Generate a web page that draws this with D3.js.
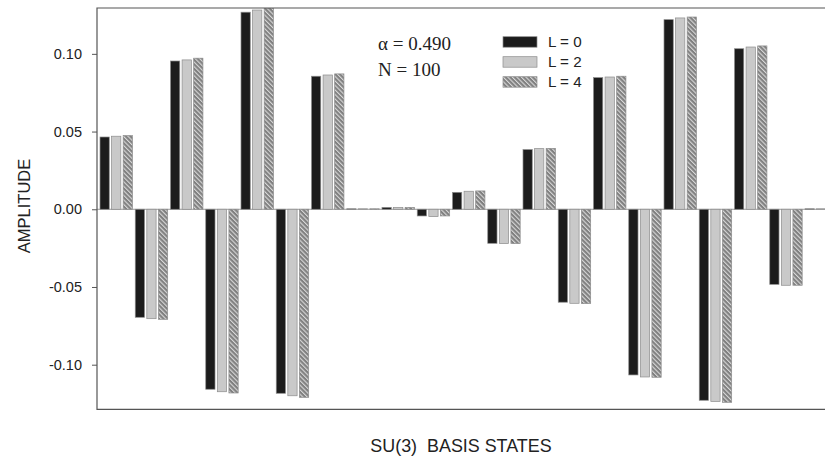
<!DOCTYPE html>
<html>
<head>
<meta charset="utf-8">
<script src="https://cdn.jsdelivr.net/npm/d3@7"></script>
<style>
  body { margin: 0; background: #fff; }
  text { font-family: "Liberation Sans", Arial, sans-serif; fill: #222; }
</style>
</head>
<body>
<div id="plot"></div>
<script>
// basis states 1..21, one value per L
var states = d3.range(1, 22);
var series = ["L = 0", "L = 2", "L = 4"];
var L0 = [0.0465, -0.0695, 0.0954, -0.1158, 0.1268, -0.1184, 0.0856, 0.0003, 0.0012, -0.0043, 0.0109,
          -0.0219, 0.0384, -0.0598, 0.0847, -0.1066, 0.1220, -0.1229, 0.1033, -0.0483, 0.0003];
var L2 = [0.0470, -0.0704, 0.0961, -0.1174, 0.1282, -0.1200, 0.0864, 0.0003, 0.0012, -0.0047, 0.0116,
          -0.0221, 0.0390, -0.0605, 0.0851, -0.1079, 0.1231, -0.1236, 0.1044, -0.0489, 0.0003];
var L4 = [0.0474, -0.0708, 0.0972, -0.1182, 0.1295, -0.1210, 0.0871, 0.0003, 0.0012, -0.0043, 0.0118,
          -0.0221, 0.0392, -0.0607, 0.0856, -0.1081, 0.1237, -0.1242, 0.1051, -0.0489, 0.0003];
var yTicks = [-0.10, -0.05, 0.00, 0.05, 0.10];
var notes = ["\u03b1 = 0.490", "N = 100"];

var values = [L0, L2, L4];
var w = 825, h = 459;
var padL = 97, padT = 8, plotBot = 409.3;

var svg = d3.select("#plot").append("svg")
  .attr("width", w)
  .attr("height", h);

var defs = svg.append("defs");
var pat = defs.append("pattern")
  .attr("id", "hatch")
  .attr("patternUnits", "userSpaceOnUse")
  .attr("width", 3.2)
  .attr("height", 3.2)
  .attr("patternTransform", "rotate(-45)");
pat.append("rect").attr("width", 3.2).attr("height", 3.2).attr("fill", "#808080");
pat.append("rect").attr("x", 0).attr("width", 1.1).attr("height", 3.2).attr("fill", "#d8d8d8");

defs.append("clipPath").attr("id", "clip")
  .append("rect").attr("x", padL).attr("y", padT).attr("width", w - padL).attr("height", plotBot - padT);

var fills = ["#1c1c1c", "#c9c9c9", "url(#hatch)"];

var step = 35.25;
var x0 = d3.scaleBand()
  .domain(states)
  .range([padL, padL + step * (states.length - 0.08 + 0.17)])
  .paddingInner(0.08)
  .paddingOuter(0.085);

var x1 = d3.scaleBand()
  .domain(series)
  .range([0, x0.bandwidth()])
  .paddingInner(0.2);

var y = d3.scaleLinear()
  .domain([-0.1287, 0.1295])
  .range([plotBot, padT]);

// zero line
svg.append("line")
  .attr("x1", padL).attr("x2", w)
  .attr("y1", y(0)).attr("y2", y(0))
  .attr("stroke", "#9a9a9a")
  .attr("stroke-width", 1);

var bars = svg.append("g").attr("clip-path", "url(#clip)");
series.forEach(function(s, si) {
  bars.selectAll(".b" + si)
    .data(states)
    .enter()
    .append("rect")
    .attr("class", "b" + si)
    .attr("x", function(d) { return x0(d) + x1(s); })
    .attr("width", x1.bandwidth())
    .attr("y", function(d, i) { return y(Math.max(0, values[si][i])); })
    .attr("height", function(d, i) { return Math.abs(y(values[si][i]) - y(0)); })
    .attr("fill", fills[si])
    .attr("stroke", "#8c8c8c")
    .attr("stroke-width", 0.7);
});

// frame (right side runs off the picture)
svg.append("path")
  .attr("d", "M" + w + "," + padT + "H" + padL + "V" + plotBot + "H" + w)
  .attr("fill", "none")
  .attr("stroke", "#555")
  .attr("stroke-width", 1.2);

var yAxis = d3.axisLeft(y)
  .tickValues(yTicks)
  .tickSize(5)
  .tickPadding(10)
  .tickFormat(function(d) { return d3.format(".2f")(d).replace("\u2212", "-"); });

var ag = svg.append("g")
  .attr("transform", "translate(" + padL + ",0)")
  .call(yAxis);
ag.select(".domain").remove();
ag.selectAll(".tick line").attr("stroke", "#555");
ag.selectAll(".tick text")
  .style("font-family", "Liberation Sans, Arial, sans-serif")
  .style("font-size", "14.5px")
  .attr("fill", "#222");

svg.append("text")
  .attr("text-anchor", "middle")
  .attr("transform", "translate(30,206)rotate(-90)")
  .style("font-size", "16.5px")
  .text("AMPLITUDE");

svg.append("text")
  .attr("text-anchor", "middle")
  .attr("x", 461)
  .attr("y", 452)
  .style("font-size", "17.9px")
  .style("white-space", "pre")
  .text("SU(3)  BASIS STATES");

// parameters
svg.selectAll(".note")
  .data(notes)
  .enter()
  .append("text")
  .attr("class", "note")
  .attr("x", 378)
  .attr("y", function(d, i) { return 50 + i * 25.5; })
  .style("font-family", "Liberation Serif, Times New Roman, serif")
  .style("font-size", "19px")
  .text(function(d) { return d; });

// legend
var lg = svg.append("g");
series.forEach(function(s, si) {
  lg.append("rect")
    .attr("x", 503)
    .attr("y", 36.7 + si * 20)
    .attr("width", 34)
    .attr("height", 10.5)
    .attr("fill", fills[si])
    .attr("stroke", "#8c8c8c")
    .attr("stroke-width", 0.7);
  lg.append("text")
    .attr("x", 548)
    .attr("y", 47 + si * 20)
    .style("font-size", "15.2px")
    .text(s);
});
</script>
</body>
</html>
